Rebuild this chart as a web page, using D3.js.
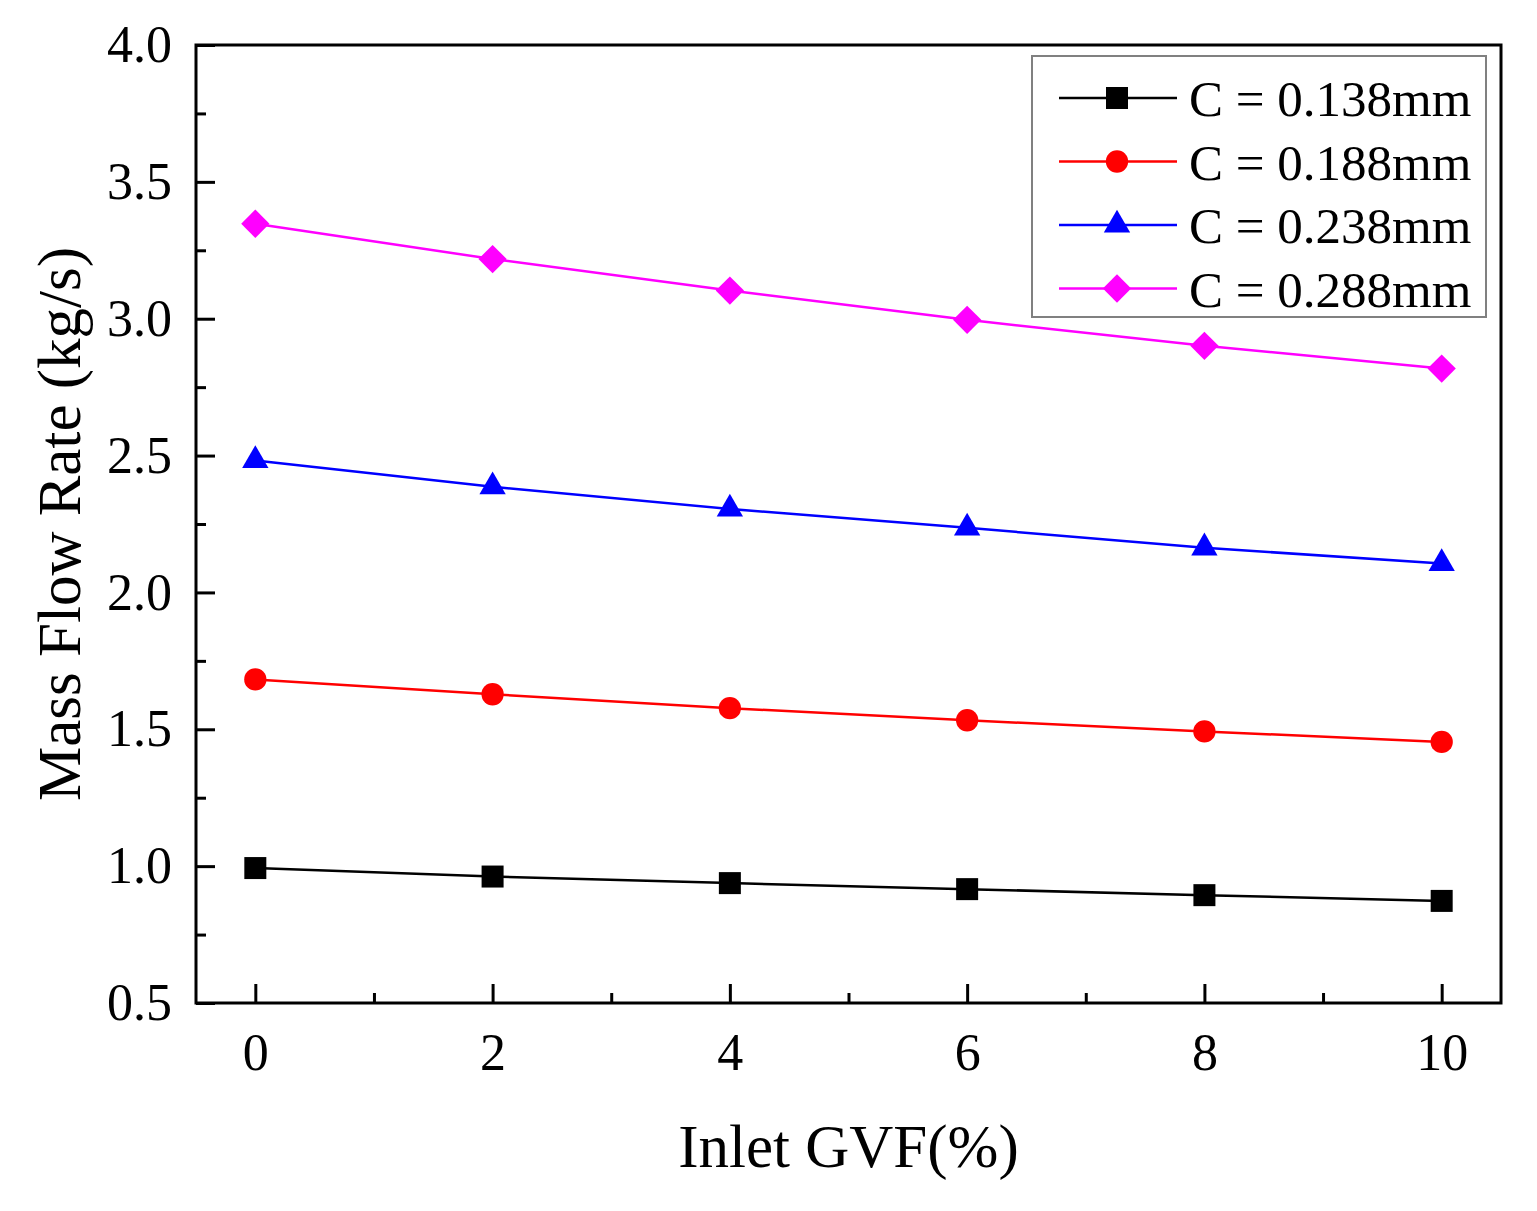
<!DOCTYPE html>
<html>
<head>
<meta charset="utf-8">
<script src="https://cdn.jsdelivr.net/npm/d3@7"></script>
<style>
  body { margin: 0; background: #fff; }
  svg { display: block; font-family: "Liberation Serif", "Times New Roman", serif; }
</style>
</head>
<body>
<svg id="chart" width="1537" height="1211"></svg>
<script>
// Mass flow rate vs inlet GVF for four clearances
const gvf = [0, 2, 4, 6, 8, 10];
const seriesNames = ["C = 0.138mm", "C = 0.188mm", "C = 0.238mm", "C = 0.288mm"];
const c138 = [0.993, 0.962, 0.938, 0.916, 0.894, 0.873];
const c188 = [1.682, 1.628, 1.577, 1.533, 1.492, 1.454];
const c238 = [2.482, 2.386, 2.305, 2.236, 2.163, 2.106];
const c288 = [3.347, 3.218, 3.103, 2.996, 2.901, 2.818];
const xTicks = [0, 2, 4, 6, 8, 10];
const xMinor = [1, 3, 5, 7, 9];
const yTicks = [0.5, 1.0, 1.5, 2.0, 2.5, 3.0, 3.5, 4.0];
const yMinor = [0.75, 1.25, 1.75, 2.25, 2.75, 3.25, 3.75];

(function () {
  const svg = d3.select("#chart");
  const margin = { top: 45, right: 36, bottom: 208, left: 196 };
  const width = 1537, height = 1211;
  const innerW = width - margin.left - margin.right;
  const innerH = height - margin.top - margin.bottom;

  const g = svg.append("g").attr("transform", `translate(${margin.left},${margin.top})`);

  const x = d3.scaleLinear().domain([-0.5, 10.5]).range([0, innerW]);
  const y = d3.scaleLinear().domain([0.5, 4.0]).range([innerH, 0]);

  const series = [
    { name: seriesNames[0], values: c138, color: "#000000", shape: "square" },
    { name: seriesNames[1], values: c188, color: "#ff0000", shape: "circle" },
    { name: seriesNames[2], values: c238, color: "#0000ff", shape: "triangle" },
    { name: seriesNames[3], values: c288, color: "#ff00ff", shape: "diamond" },
  ];

  function symbolPath(shape) {
    if (shape === "square") return d3.symbol(d3.symbolSquare, 484)();
    if (shape === "circle") return d3.symbol(d3.symbolCircle, 390)();
    if (shape === "triangle") return d3.symbol(d3.symbolTriangle, 300)();
    return d3.symbol(d3.symbolSquare, 400)();
  }
  const rot = (shape) => (shape === "diamond" ? " rotate(45)" : "");

  // axes (ticks pointing inward)
  const xAxis = g.append("g")
    .attr("transform", `translate(0,${innerH})`)
    .call(d3.axisBottom(x).tickValues(xTicks).tickSize(-19).tickSizeOuter(0).tickPadding(30).tickFormat(d3.format("d")));
  const xAxisMinor = g.append("g")
    .attr("transform", `translate(0,${innerH})`)
    .call(d3.axisBottom(x).tickValues(xMinor).tickSize(-10).tickSizeOuter(0).tickFormat(""));
  const yAxis = g.append("g")
    .call(d3.axisLeft(y).tickValues(yTicks).tickSize(-19).tickSizeOuter(0).tickPadding(24).tickFormat(d3.format(".1f")));
  const yAxisMinor = g.append("g")
    .call(d3.axisLeft(y).tickValues(yMinor).tickSize(-10).tickSizeOuter(0).tickFormat(""));

  [xAxis, xAxisMinor, yAxis, yAxisMinor].forEach((a) => {
    a.select(".domain").remove();
    a.selectAll(".tick line").attr("stroke", "#000").attr("stroke-width", 3);
    a.selectAll(".tick text")
      .attr("fill", "#000")
      .style("font-size", "52px")
      .style("font-family", "'Liberation Serif', 'Times New Roman', serif");
  });

  // lines and markers
  const line = d3.line().x((d, i) => x(gvf[i])).y((d) => y(d));
  const sg = g.selectAll("g.series").data(series).join("g").attr("class", "series");
  sg.append("path")
    .attr("fill", "none")
    .attr("stroke", (d) => d.color)
    .attr("stroke-width", 2.5)
    .attr("d", (d) => line(d.values));
  sg.each(function (s) {
    d3.select(this).selectAll("path.marker")
      .data(s.values)
      .join("path")
      .attr("class", "marker")
      .attr("d", symbolPath(s.shape))
      .attr("fill", s.color)
      .attr("transform", (d, i) => `translate(${x(gvf[i])},${y(d)})${rot(s.shape)}`);
  });

  // frame
  g.append("rect")
    .attr("width", innerW).attr("height", innerH)
    .attr("fill", "none").attr("stroke", "#000").attr("stroke-width", 3);

  // axis titles
  svg.append("text")
    .attr("x", margin.left + innerW / 2)
    .attr("y", 1167)
    .attr("text-anchor", "middle")
    .style("font-size", "61px")
    .text("Inlet GVF(%)");
  svg.append("text")
    .attr("transform", `translate(80,${margin.top + innerH / 2}) rotate(-90)`)
    .attr("text-anchor", "middle")
    .style("font-size", "61px")
    .text("Mass Flow Rate (kg/s)");

  // legend
  const legend = svg.append("g").attr("transform", "translate(1032,56)");
  legend.append("rect")
    .attr("width", 454).attr("height", 261)
    .attr("fill", "#fff").attr("stroke", "#808080").attr("stroke-width", 2);
  const items = legend.selectAll("g.item").data(series).join("g")
    .attr("class", "item")
    .attr("transform", (d, i) => `translate(0,${42 + i * 63.5})`);
  items.append("line")
    .attr("x1", 27).attr("x2", 145)
    .attr("stroke", (d) => d.color).attr("stroke-width", 2.5);
  items.append("path")
    .attr("d", (d) => symbolPath(d.shape))
    .attr("fill", (d) => d.color)
    .attr("transform", (d) => `translate(85,0)${rot(d.shape)}`);
  items.append("text")
    .attr("x", 157).attr("y", 18)
    .style("font-size", "51px")
    .text((d) => d.name);
})();
</script>
</body>
</html>
